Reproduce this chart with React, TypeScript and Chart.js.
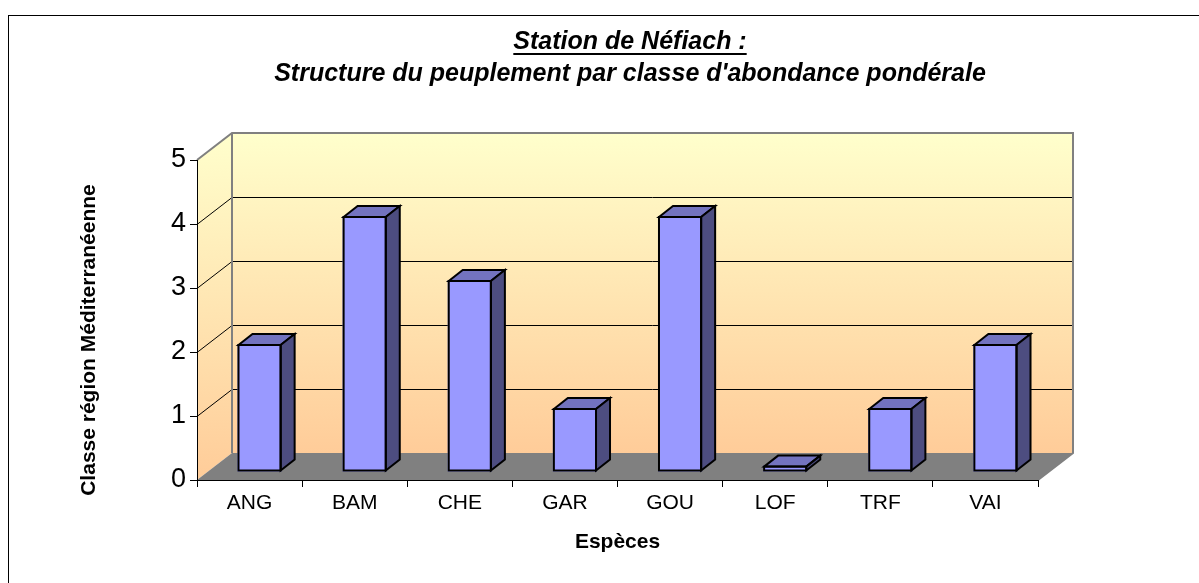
import React, { useEffect, useRef } from "react";
import { Chart, registerables } from "chart.js";

Chart.register(...registerables);

const categories = ["ANG", "BAM", "CHE", "GAR", "GOU", "LOF", "TRF", "VAI"];
const abundanceClass = [2, 4, 3, 1, 4, 0.1, 1, 2];
const yMin = 0;
const yMax = 5;
const yStep = 1;

const titleLine1 = "Station de Néfiach :";
const titleLine2 = "Structure du peuplement par classe d'abondance pondérale";
const yAxisTitle = "Classe région Méditerranéenne";
const xAxisTitle = "Espèces";

const FONT = '"Liberation Sans", Arial, Helvetica, sans-serif';
const W = 1199;
const H = 583;
const DEPTH_X = 35;
const DEPTH_Y = -27;
const BAR_FRONT = 0.29;
const BAR_BACK = 0.69;

const wallPlugin = {
  id: "walls3d",
  beforeDraw(chart: any) {
    const ctx = chart.ctx as CanvasRenderingContext2D;
    const { left, right, top, bottom } = chart.chartArea;
    const y = chart.scales.y;
    ctx.save();
    ctx.fillStyle = "#ffffff";
    ctx.fillRect(0, 0, W, H);
    ctx.strokeStyle = "#000";
    ctx.lineWidth = 1;
    ctx.strokeRect(8.5, 15.5, W + 40, H + 40);

    const bl = left + DEPTH_X;
    const br = right + DEPTH_X;
    const bt = top + DEPTH_Y;
    const bb = bottom + DEPTH_Y;

    const grad = ctx.createLinearGradient(0, bt, 0, bb);
    grad.addColorStop(0, "#FFFFCC");
    grad.addColorStop(1, "#FFCC99");
    ctx.fillStyle = grad;
    ctx.fillRect(bl, bt, br - bl, bb - bt);

    const grad2 = ctx.createLinearGradient(0, bt, 0, bottom);
    grad2.addColorStop(0, "#FFFFCC");
    grad2.addColorStop(1, "#FFCC99");
    ctx.fillStyle = grad2;
    ctx.beginPath();
    ctx.moveTo(left, top);
    ctx.lineTo(bl, bt);
    ctx.lineTo(bl, bb);
    ctx.lineTo(left, bottom);
    ctx.closePath();
    ctx.fill();

    ctx.strokeStyle = "#000";
    ctx.lineWidth = 1;
    for (const t of y.ticks) {
      if (t.value <= yMin || t.value >= yMax) continue;
      const py = Math.round(y.getPixelForValue(t.value)) + 0.5;
      ctx.beginPath();
      ctx.moveTo(bl, py + DEPTH_Y);
      ctx.lineTo(br, py + DEPTH_Y);
      ctx.moveTo(left, py);
      ctx.lineTo(bl, py + DEPTH_Y);
      ctx.stroke();
    }

    ctx.fillStyle = "#808080";
    ctx.beginPath();
    ctx.moveTo(left, bottom);
    ctx.lineTo(right, bottom);
    ctx.lineTo(br, bb);
    ctx.lineTo(bl, bb);
    ctx.closePath();
    ctx.fill();

    ctx.strokeStyle = "#808080";
    ctx.lineWidth = 2;
    ctx.beginPath();
    ctx.moveTo(left, top);
    ctx.lineTo(bl, bt);
    ctx.lineTo(br, bt);
    ctx.lineTo(br, bb);
    ctx.lineTo(right, bottom);
    ctx.moveTo(bl, bt);
    ctx.lineTo(bl, bb);
    ctx.stroke();
    ctx.restore();
  },
};

const barPlugin = {
  id: "bars3d",
  beforeDatasetDraw(chart: any) {
    const ctx = chart.ctx as CanvasRenderingContext2D;
    ctx.save();
    ctx.translate(Math.round(DEPTH_X * BAR_FRONT), Math.round(DEPTH_Y * BAR_FRONT));
  },
  afterDatasetDraw(chart: any, args: any) {
    const ctx = chart.ctx as CanvasRenderingContext2D;
    ctx.restore();
    const fx = Math.round(DEPTH_X * BAR_FRONT);
    const fy = Math.round(DEPTH_Y * BAR_FRONT);
    const dx = Math.round(DEPTH_X * (BAR_BACK - BAR_FRONT));
    const dy = Math.round(DEPTH_Y * (BAR_BACK - BAR_FRONT));
    ctx.save();
    ctx.strokeStyle = "#000";
    ctx.lineWidth = 2;
    ctx.lineJoin = "miter";
    for (const el of args.meta.data) {
      const p = el.getProps(["x", "y", "base", "width"], true);
      const l = p.x - p.width / 2 + fx + 1;
      const r = p.x + p.width / 2 + fx - 1;
      const t = Math.min(p.y, p.base) + fy + 1;
      const b = Math.max(p.y, p.base) + fy - 1;
      ctx.fillStyle = "#7373BF";
      ctx.beginPath();
      ctx.moveTo(l, t);
      ctx.lineTo(l + dx, t + dy);
      ctx.lineTo(r + dx, t + dy);
      ctx.lineTo(r, t);
      ctx.closePath();
      ctx.fill();
      ctx.stroke();
      ctx.fillStyle = "#4D4D80";
      ctx.beginPath();
      ctx.moveTo(r, t);
      ctx.lineTo(r + dx, t + dy);
      ctx.lineTo(r + dx, b + dy);
      ctx.lineTo(r, b);
      ctx.closePath();
      ctx.fill();
      ctx.stroke();
      ctx.strokeRect(l, t, r - l, b - t);
    }
    ctx.restore();
  },
};

const textPlugin = {
  id: "texts",
  afterDraw(chart: any) {
    const ctx = chart.ctx as CanvasRenderingContext2D;
    const { left, right } = chart.chartArea;
    ctx.save();
    ctx.fillStyle = "#000";
    ctx.textAlign = "center";
    ctx.textBaseline = "alphabetic";
    ctx.font = `italic bold 25px ${FONT}`;
    const cx = 630;
    ctx.fillText(titleLine1, cx, 49);
    const w1 = ctx.measureText(titleLine1).width;
    ctx.fillRect(cx - w1 / 2, 53, w1, 2);
    ctx.fillText(titleLine2, cx, 81);

    ctx.font = `bold 21px ${FONT}`;
    ctx.textBaseline = "middle";
    ctx.fillText(xAxisTitle, (left + right) / 2, 542);
    ctx.translate(89, 340);
    ctx.rotate(-Math.PI / 2);
    ctx.fillText(yAxisTitle, 0, 0);
    ctx.restore();
  },
};

export default function App() {
  const ref = useRef<HTMLCanvasElement>(null);
  useEffect(() => {
    if (!ref.current) return;
    const chart = new Chart(ref.current, {
      type: "bar",
      data: {
        labels: categories,
        datasets: [
          {
            data: abundanceClass,
            backgroundColor: "#9999FF",
            borderWidth: 0,
            categoryPercentage: 1,
            barPercentage: 0.42,
          },
        ],
      },
      options: {
        responsive: false,
        animation: false,
        devicePixelRatio: 1,
        layout: { padding: { left: 0, right: W - 1038, top: 160, bottom: 0 } },
        plugins: { legend: { display: false }, tooltip: { enabled: false }, title: { display: false } },
        scales: {
          x: {
            type: "category",
            grid: { offset: true, drawOnChartArea: false, drawTicks: true, tickLength: 7, color: "#000" },
            border: { display: true, color: "#000", width: 1 },
            ticks: { font: { family: FONT, size: 21 }, color: "#000", padding: 4, maxRotation: 0, autoSkip: false },
            afterFit: (s: any) => {
              s.height = H - 480;
            },
          },
          y: {
            min: yMin,
            max: yMax,
            ticks: { stepSize: yStep, font: { family: FONT, size: 27 }, color: "#000", padding: 4 },
            grid: { drawOnChartArea: false, drawTicks: true, tickLength: 7, color: "#000" },
            border: { display: true, color: "#000", width: 1 },
            afterFit: (s: any) => {
              s.width = 197;
            },
          },
        },
      },
      plugins: [wallPlugin, barPlugin, textPlugin],
    });
    return () => chart.destroy();
  }, []);
  return (
    <div style={{ position: "absolute", left: 0, top: 0, width: W, height: H }}>
      <canvas ref={ref} width={W} height={H} style={{ display: "block" }} />
    </div>
  );
}
